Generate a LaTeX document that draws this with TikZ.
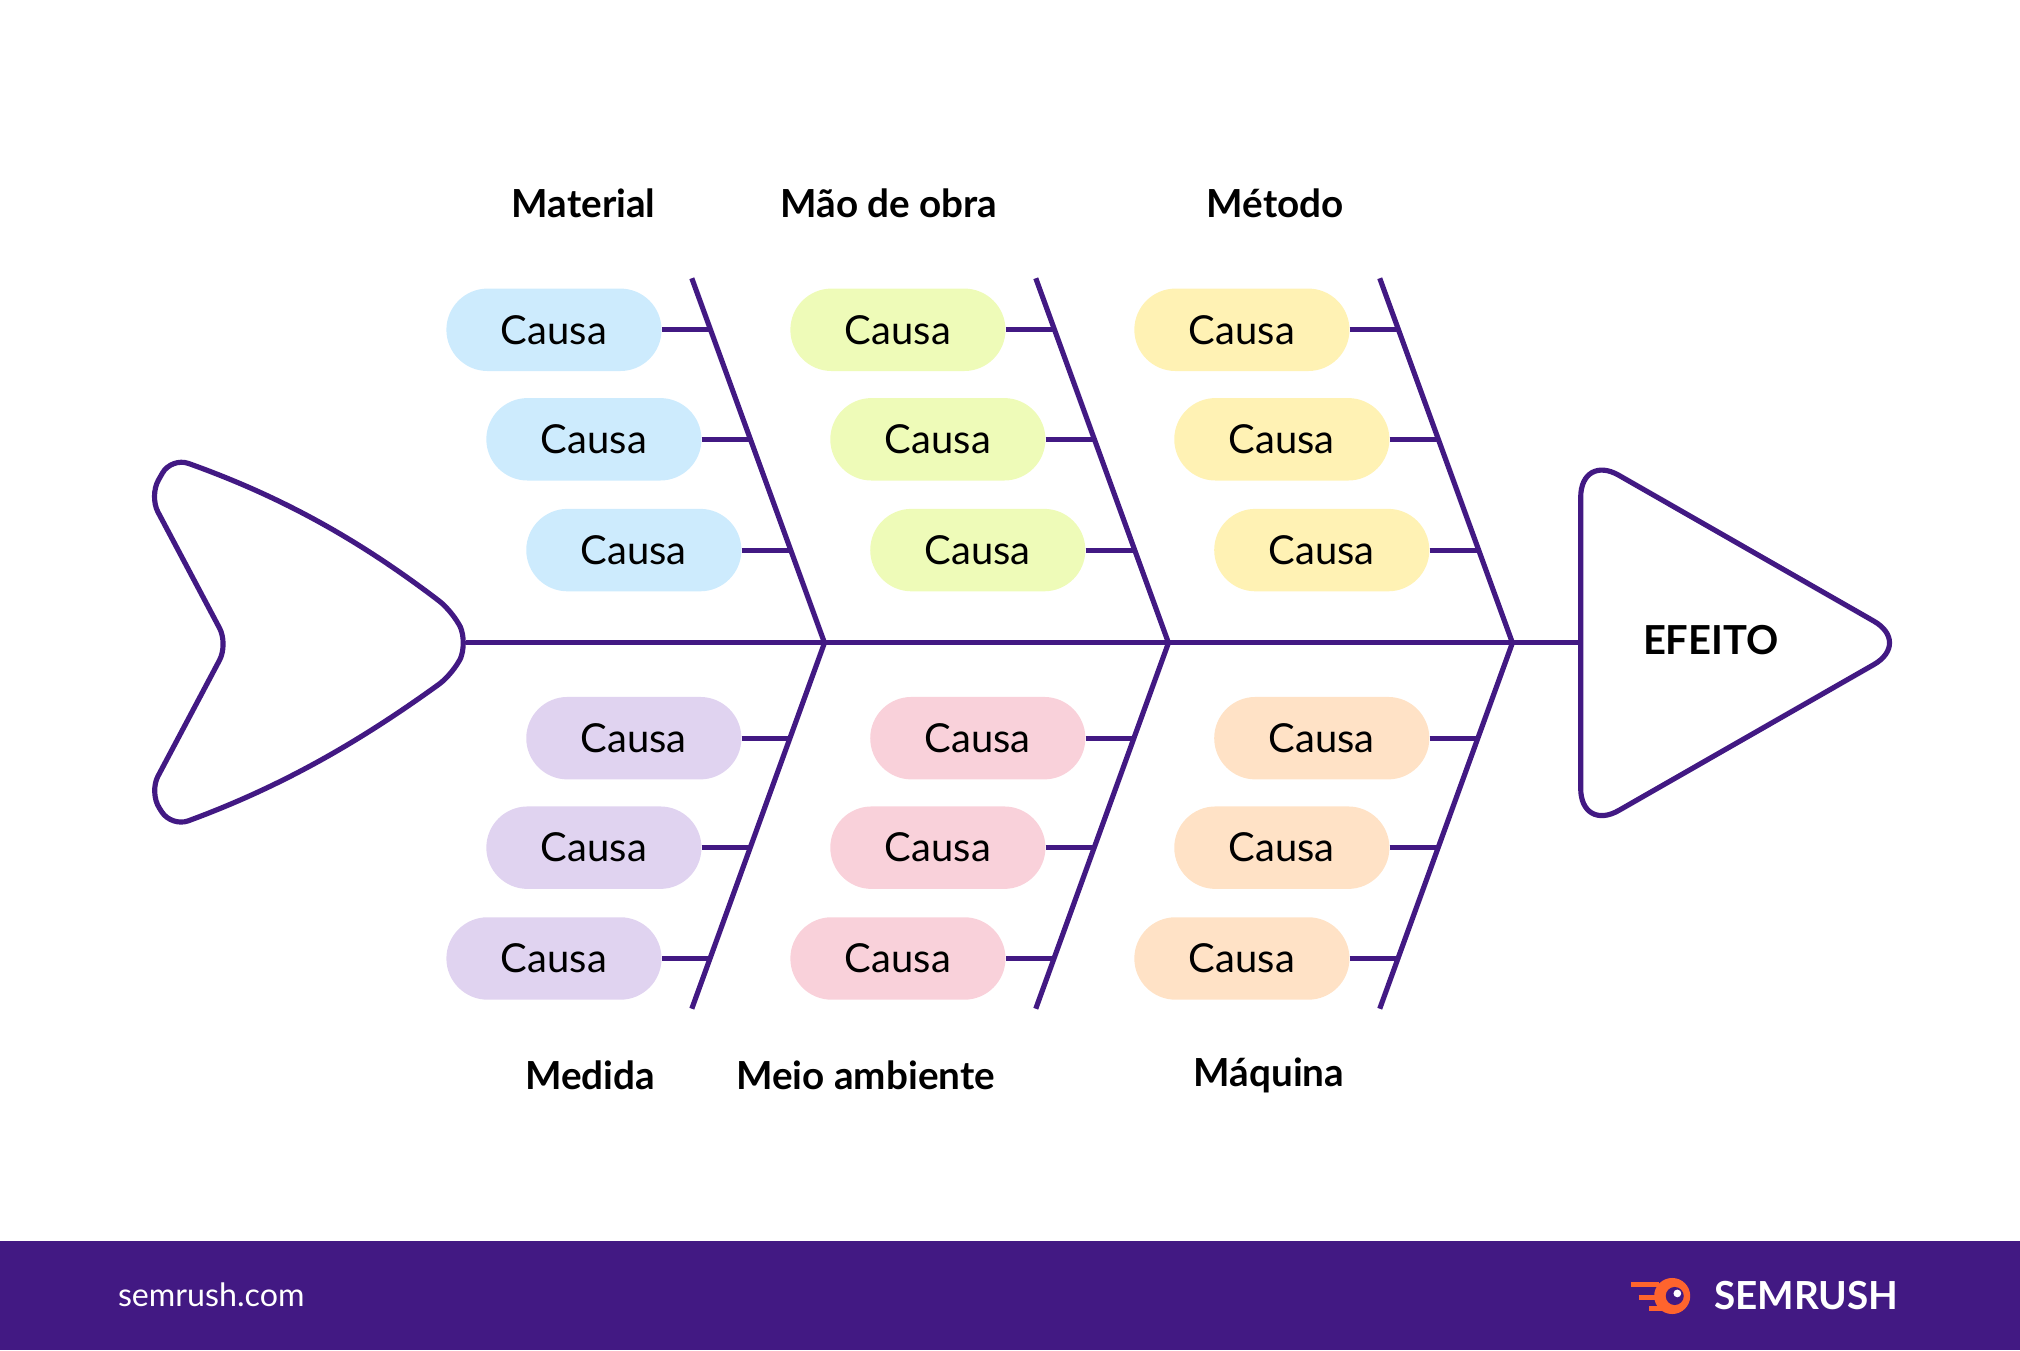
\documentclass[tikz,border=0pt]{standalone}
\usepackage{fontspec}
\setmainfont{Lato}
\definecolor{ink}{HTML}{421983}
\definecolor{cb}{HTML}{CDEBFD}
\definecolor{cg}{HTML}{EEFBB8}
\definecolor{cy}{HTML}{FFF2B4}
\definecolor{cp}{HTML}{E0D3F0}
\definecolor{ck}{HTML}{F9D1DA}
\definecolor{co}{HTML}{FFE2C6}
\definecolor{sor}{HTML}{FF642D}
\begin{document}
\begin{tikzpicture}[x=1pt,y=-1pt,
  pill/.style={rounded corners=32pt,minimum width=167pt,minimum height=64pt,inner sep=0pt,font=\fontsize{31}{31}\selectfont},
  bone/.style={draw=ink,line width=4pt},
  cat/.style={font=\fontsize{30}{30}\selectfont\bfseries}]
\useasboundingbox (0,0) rectangle (1568,1048);
\fill[ink] (0,963) rectangle (1568,1048);
\node[text=white,font=\fontsize{25}{25}\selectfont] (url) at (164,1005) {semrush.com};
\node[text=white,font=\fontsize{30}{30}\selectfont\bfseries] (logo) at (1402,1006) {SEMRUSH};
\fill[sor] (1298,1006) circle (14);
\fill[ink] (1300,1006) circle (7);
\fill[white] (1302,1004) circle (3);
\draw[sor,line width=4pt] (1266,997) -- (1288,997) (1272,1007) -- (1286,1007) (1280,1016) -- (1290,1016);
% spine
\coordinate (s0) at (362,499); \coordinate (s1) at (1227,499);
\draw[bone] (s0) -- (s1);
% tail
\draw[bone,rounded corners=14pt] (177,500) -- (116,385) -- (133,355) .. controls (220,386) and (280,420) .. (352,475) -- (363,499) -- (352,523) .. controls (280,575) and (220,610) .. (133,642) -- (116,615) -- cycle;
% head
\draw[bone,rounded corners=34pt] (1227,352) -- (1484,499) -- (1227,646) -- cycle;
\node[font=\fontsize{31}{31}\selectfont\bfseries] (eff) at (1328,497) {EFEITO};
% bones
\foreach \c/\tc/\bc/\i in {0/cb/cp/1,267/cg/ck/2,534/cy/co/3}{
  \coordinate (j\i) at (640+\c,499);
  \coordinate (t\i) at (537+\c,216);
  \coordinate (b\i) at (537+\c,783);
  \draw[bone] (t\i) -- (j\i) -- (b\i);
  \foreach \y/\px/\bx [count=\k] in {256/430/551,341/461/582,427/492/613}{
    \node[pill,fill=\tc] (u\i\k) at (\px+\c,\y) {Causa};
    \coordinate (ut\i\k) at (\bx+\c,\y);
    \draw[bone] (u\i\k.east) -- (ut\i\k);
  }
  \foreach \y/\px/\bx [count=\k] in {573/492/613,658/461/582,744/430/551}{
    \node[pill,fill=\bc] (d\i\k) at (\px+\c,\y) {Causa};
    \coordinate (dt\i\k) at (\bx+\c,\y);
    \draw[bone] (d\i\k.east) -- (dt\i\k);
  }
}
\node[cat] (l1) at (453,158) {Material};
\node[cat] (l2) at (690,158) {Mão de obra};
\node[cat] (l3) at (990,158) {Método};
\node[cat] (l4) at (458,835) {Medida};
\node[cat] (l5) at (672,835) {Meio ambiente};
\node[cat] (l6) at (985,835) {Máquina};
\end{tikzpicture}
\end{document}
